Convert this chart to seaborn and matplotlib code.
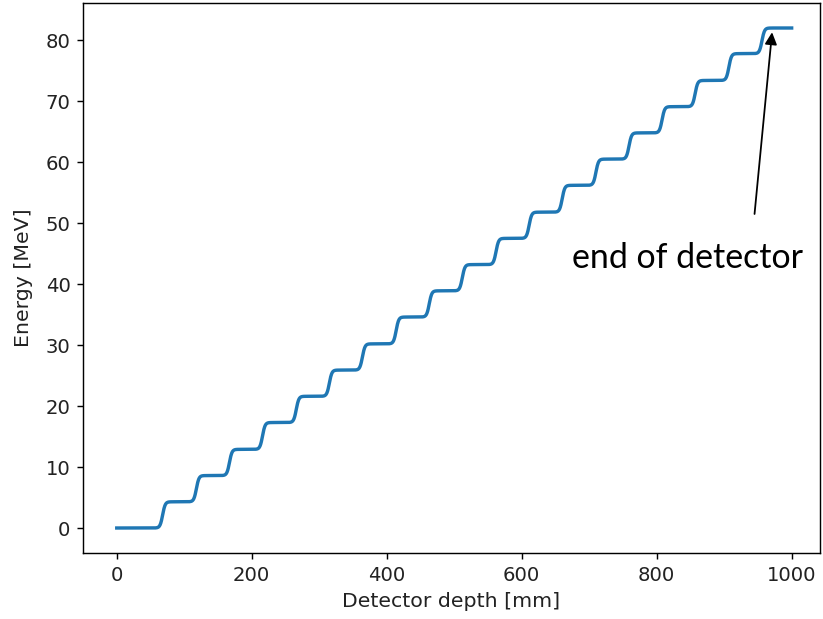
import numpy as np
import pandas as pd
import matplotlib
matplotlib.use("Agg")
import matplotlib.pyplot as plt
import seaborn as sns

# Depths (mm) at which the energy climbs to the next plateau
riser_depth = [68, 118, 167, 216, 266, 315, 364, 414, 463, 512,
               562, 611, 660, 710, 759, 808, 857, 907, 956]
# Energy plateaus (MeV), from the entrance face to the end of the detector
energy_levels = [0.0, 4.3, 8.6, 12.9, 17.3, 21.6, 25.9, 30.2, 34.6, 38.9,
                 43.2, 47.5, 51.8, 56.2, 60.5, 64.8, 69.1, 73.4, 77.8, 82.0]
depth_range = [0, 1000]
x_ticks = [0, 200, 400, 600, 800, 1000]
y_ticks = [0, 10, 20, 30, 40, 50, 60, 70, 80]

# Each layer adds its deposit over a short, smooth transition
riser_width = 3.8
depth = np.linspace(depth_range[0], depth_range[1], 4001)
energy = np.full_like(depth, energy_levels[0])
steps = np.diff(energy_levels)
for x0, dE in zip(riser_depth, steps):
    energy += dE * 0.5 * (1.0 + np.tanh((depth - x0) / riser_width))

df = pd.DataFrame({"Detector depth [mm]": depth, "Energy [MeV]": energy})

dpi = 128.6
fig = plt.figure(figsize=(823 / dpi, 619 / dpi), dpi=dpi)
ax = fig.add_axes([83 / 823, 66 / 619, 737 / 823, 550 / 619])

sns.lineplot(data=df, x="Detector depth [mm]", y="Energy [MeV]",
             ax=ax, color="#1f77b4", linewidth=1.9)

ax.set_xlim(-50, 1042)
ax.set_ylim(-4.1, 86.1)
ax.set_xticks(x_ticks)
ax.set_yticks(y_ticks)
ax.tick_params(labelsize=11, colors="#222222")
ax.tick_params(colors="black", which="both", labelcolor="#222222")
ax.set_xlabel("Detector depth [mm]", fontsize=11.5, color="#222222")
ax.set_ylabel("Energy [MeV]", fontsize=11.5, color="#222222", labelpad=7)

ax.annotate("", xy=(971, 81.3), xytext=(945, 51.5),
            arrowprops=dict(arrowstyle="-|>", color="black", lw=1.0,
                            mutation_scale=14, shrinkA=0, shrinkB=0))
ax.text(845, 44.3, "end of detector", ha="center", va="center",
        fontsize=19, family=["Lato", "DejaVu Sans"], color="black")

fig.savefig("out.png", dpi=dpi)
